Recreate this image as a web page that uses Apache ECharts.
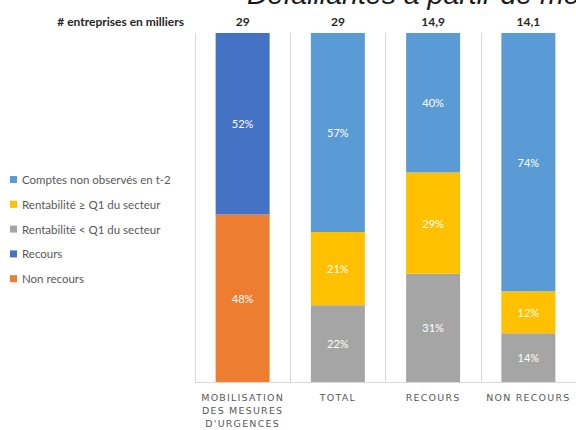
<!DOCTYPE html>
<html><head><meta charset="utf-8">
<script src="https://cdn.jsdelivr.net/npm/echarts@6/dist/echarts.min.js"></script>
<style>html,body{margin:0;padding:0;background:#fff}#c{width:576px;height:430px}</style>
</head><body><div id="c"></div>
<script>
const categories = ["MOBILISATION\nDES MESURES\nD'URGENCES", "TOTAL", "RECOURS", "NON RECOURS"];
const topLabels = ["29", "29", "14,9", "14,1"];
const comptesNonObserves = [null, 57, 40, 74];
const rentaSupQ1 = [null, 21, 29, 12];
const rentaInfQ1 = [null, 22, 31, 14];
const recours = [52, null, null, null];
const nonRecours = [48, null, null, null];
const seriesNames = ["Comptes non observés en t-2", "Rentabilité ≥ Q1 du secteur", "Rentabilité < Q1 du secteur", "Recours", "Non recours"];
const titleText = "Défaillantes à partir de mesures d'urgence";
const unitText = "# entreprises en milliers";

const FONT = 'Lato';
function bar(name, data, color) {
  return {
    name: name, type: 'bar', stack: 'total', data: data, barWidth: 54,
    itemStyle: { color: color },
    label: { show: true, position: 'inside', color: '#fff', fontFamily: FONT, fontSize: 11, formatter: '{c}%' }
  };
}
const chart = echarts.init(document.getElementById('c'), null, { renderer: 'svg' });
const catLines = new Set();
categories.forEach(c => c.split('\n').forEach(l => catLines.add(l)));
function spaceLabels() {
  document.querySelectorAll('#c text').forEach(t => {
    if (catLines.has(t.textContent)) t.style.letterSpacing = '1.2px';
  });
}
chart.on('rendered', spaceLabels);
chart.setOption({
  animation: false,
  textStyle: { fontFamily: FONT },
  grid: { left: 195, top: 33, width: 384, bottom: 47, containLabel: false },
  legend: {
    orient: 'vertical', left: 10, top: 173.5, padding: 0,
    data: seriesNames,
    icon: 'rect', itemWidth: 7, itemHeight: 7, itemGap: 12.8,
    textStyle: { fontFamily: FONT, fontSize: 11.5, color: '#595959', lineHeight: 12 }
  },
  graphic: [
    { type: 'text', x: 247, y: -6, style: { text: titleText, fontFamily: 'Liberation Sans', fontStyle: 'italic', fontSize: 28.5, fill: '#1a1a1a', verticalAlign: 'middle', align: 'left' } },
    { type: 'text', x: 184, y: 21, style: { text: unitText, fontFamily: FONT, fontWeight: 'bold', fontSize: 12, fill: '#262626', verticalAlign: 'middle', align: 'right' } }
  ],
  xAxis: [
    {
      type: 'category', data: categories, position: 'bottom',
      axisLine: { show: true, lineStyle: { color: '#d9d9d9', width: 1 } },
      axisTick: { show: false },
      splitLine: { show: true, lineStyle: { color: '#d9d9d9', width: 1 } },
      axisLabel: { color: '#595959', fontFamily: 'DejaVu Sans', fontSize: 9.5, lineHeight: 13, margin: 9, interval: 0 }
    },
    {
      type: 'category', data: topLabels, position: 'top',
      axisLine: { show: false }, axisTick: { show: false }, splitLine: { show: false },
      axisLabel: { color: '#262626', fontFamily: FONT, fontWeight: 'bold', fontSize: 12, margin: 6, interval: 0 }
    }
  ],
  yAxis: { type: 'value', min: 0, max: 100, show: false, splitLine: { show: false } },
  series: [
    bar(seriesNames[2], rentaInfQ1, '#A5A5A5'),
    bar(seriesNames[1], rentaSupQ1, '#FFC000'),
    bar(seriesNames[0], comptesNonObserves, '#5B9BD5'),
    bar(seriesNames[4], nonRecours, '#ED7D31'),
    bar(seriesNames[3], recours, '#4472C4')
  ]
});
spaceLabels();
setTimeout(spaceLabels, 0);
</script></body></html>
